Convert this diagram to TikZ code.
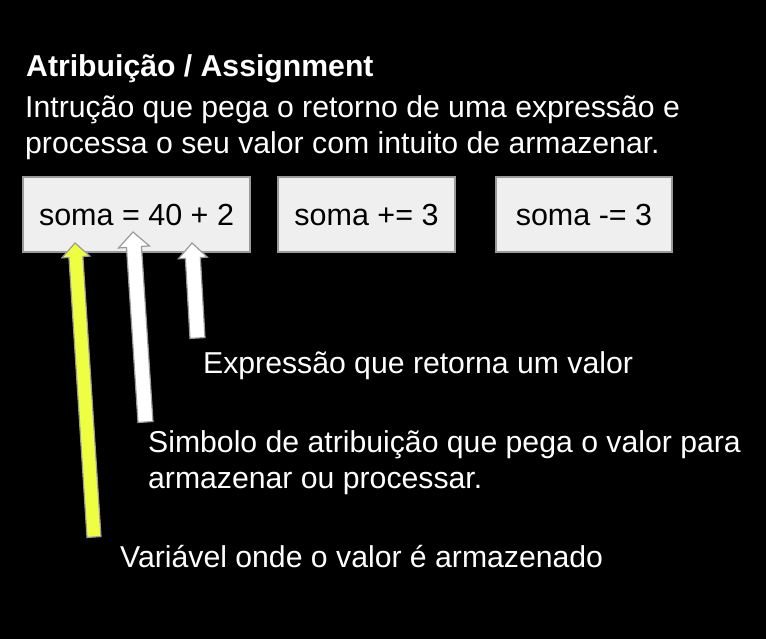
\documentclass[tikz,border=0pt]{standalone}
\usepackage{fontspec}
\setmainfont{Liberation Sans}
\usetikzlibrary{calc}
\definecolor{boxfill}{HTML}{EFEFEF}
\definecolor{boxline}{HTML}{9A9A9A}
\definecolor{lime}{HTML}{EEFF41}
\newcommand\blkarrow[7]{% tip, tail, headlen, headhalf, shafthalf, fill, draw
  \filldraw[fill=#6, draw=#7, line width=1.2pt, line join=miter]
    (#1) -- ($($(#1)!#3!(#2)$)!#4!90:(#2)$)
    -- ($($(#1)!#3!(#2)$)!#5!90:(#2)$)
    -- ($(#2)!#5!-90:(#1)$)
    -- ($(#2)!#5!90:(#1)$)
    -- ($($(#1)!#3!(#2)$)!#5!-90:(#2)$)
    -- ($($(#1)!#3!(#2)$)!#4!-90:(#2)$)
    -- cycle;}
\begin{document}
\begin{tikzpicture}[x=1pt,y=-1pt,
  txt/.style={anchor=base west, inner sep=0pt, text=white, font=\fontsize{30.2}{36}\selectfont},
  codebox/.style={draw=boxline, fill=boxfill, line width=1.2pt, minimum height=75pt,
    inner sep=0pt, text height=23pt, text depth=0pt, font=\fontsize{30.5}{36}\selectfont}]
\fill[black] (0,0) rectangle (766,639);
\useasboundingbox (0,0) rectangle (766,639);
\node[txt, font=\fontsize{30.2}{36}\selectfont\bfseries] (title) at (26,77) {Atribuição / Assignment};
\node[txt] (l1) at (25,118) {Intrução que pega o retorno de uma expressão e};
\node[txt] (l2) at (25,154) {processa o seu valor com intuito de armazenar.};
\node[codebox, minimum width=227pt] (b1) at (136.5,214.5) {soma = 40 + 2};
\node[codebox, minimum width=177pt] (b2) at (366.5,214.5) {soma += 3};
\node[codebox, minimum width=176pt] (b3) at (584,214.5) {soma -= 3};
\coordinate (t1) at (75,243);   \coordinate (e1) at (94,537);
\coordinate (t2) at (133,232);  \coordinate (e2) at (145.5,422);
\coordinate (t3) at (192,243);  \coordinate (e3) at (197.5,338);
\blkarrow{t1}{e1}{14pt}{14pt}{7pt}{lime}{boxline}
\blkarrow{t2}{e2}{15pt}{15.5pt}{7.5pt}{white}{boxline}
\blkarrow{t3}{e3}{15pt}{14.5pt}{7.5pt}{white}{boxline}
\node[txt] (c3) at (203,373) {Expressão que retorna um valor};
\node[txt] (c2a) at (148,452) {Simbolo de atribuição que pega o valor para};
\node[txt] (c2b) at (148,488) {armazenar ou processar.};
\node[txt] (c1) at (120,567) {Variável onde o valor é armazenado};
\end{tikzpicture}
\end{document}
